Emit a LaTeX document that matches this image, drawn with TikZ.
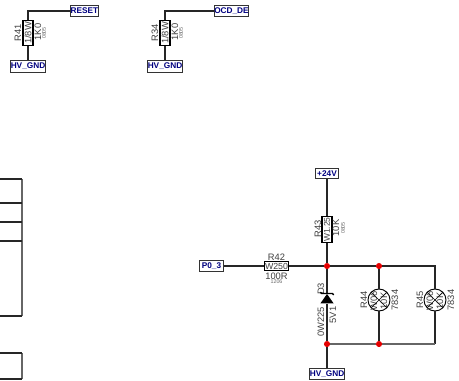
\documentclass[tikz,border=0pt]{standalone}
\usepackage{fontspec}
\setmainfont{Liberation Sans}
\usetikzlibrary{shapes.geometric}
\definecolor{netblue}{RGB}{0,0,128}
\tikzset{
  wire/.style={draw=black!85, line width=0.8pt},
  edgeline/.style={draw=black!60, line width=0.9pt},
  netlabel/.style={draw=black!80, line width=0.7pt, fill=white, text=netblue, inner sep=0pt, font=\bfseries\fontsize{6.2}{6.2}\selectfont},
  resbody/.style={draw=black, line width=0.8pt, fill=white, inner sep=0pt, font=\fontsize{7}{7}\selectfont, text=black!75},
  partlabel/.style={inner sep=0pt, text=black!75, font=\fontsize{7}{7}\selectfont},
  tinylabel/.style={inner sep=0pt, text=black!60, font=\fontsize{4}{4}\selectfont},
  junction/.style={circle, fill=red!90!black, inner sep=0pt, minimum size=4.6pt},
  thermbody/.style={circle, draw=black, line width=0.7pt, inner sep=0pt, minimum size=16.5pt},
}
\begin{document}
\begin{tikzpicture}[x=0.75pt, y=-0.75pt]
  \useasboundingbox (0,0) rectangle (459,380);

  % Pull-down for RESET
  \node[netlabel, minimum width=18.5pt, minimum height=8.5pt] (reset) at (84.5,11) {RESET};
  \node[resbody, rotate=90, minimum width=19pt, minimum height=7.5pt] (r41) at (28,33) {1/8W};
  \node[netlabel, minimum width=25.5pt, minimum height=8.5pt] (gnda) at (28,66.5) {HV\_GND};
  \node[partlabel, rotate=90] (r41name) at (18,33) {R41};
  \node[partlabel, rotate=90] (r41val) at (38,32) {1K0};
  \node[tinylabel, rotate=90] (r41size) at (44,33) {0805};
  \draw[wire] (reset.west) -| (r41.east);
  \draw[wire] (r41.west) -- (gnda.north);

  % Pull-down for OCD_DE
  \node[netlabel, minimum width=26pt, minimum height=8pt] (ocd) at (231.5,11) {OCD\_DE};
  \node[resbody, rotate=90, minimum width=19pt, minimum height=7.5pt] (r34) at (165,33) {1/8W};
  \node[netlabel, minimum width=26pt, minimum height=8.5pt] (gndb) at (165,66.5) {HV\_GND};
  \node[partlabel, rotate=90] (r34name) at (155,33) {R34};
  \node[partlabel, rotate=90] (r34val) at (175,32) {1K0};
  \node[tinylabel, rotate=90] (r34size) at (181,33) {0805};
  \draw[wire] (ocd.west) -| (r34.east);
  \draw[wire] (r34.west) -- (gndb.north);

  % Supply and input resistors
  \node[netlabel, minimum width=17pt, minimum height=8pt] (vsup) at (327,173.5) {+24V};
  \node[netlabel, minimum width=18.5pt, minimum height=8pt] (port) at (211.5,266) {P0\_3};
  \node[netlabel, minimum width=25.5pt, minimum height=8.5pt] (gndc) at (327,374) {HV\_GND};
  \node[resbody, rotate=90, minimum width=19pt, minimum height=7.5pt, font=\fontsize{6.3}{6.3}\selectfont] (r43) at (327,229.5) {W1.25};
  \node[partlabel, rotate=90] (r43name) at (318,229) {R43};
  \node[partlabel, rotate=90] (r43val) at (336,228) {10K};
  \node[tinylabel, rotate=90] (r43size) at (343,228) {0805};
  \node[resbody, minimum width=18.5pt, minimum height=6.5pt, font=\fontsize{6.6}{6.6}\selectfont] (r42) at (276.5,266) {W250};
  \node[partlabel] (r42name) at (276.5,257) {R42};
  \node[partlabel] (r42val) at (276.5,276) {100R};
  \node[tinylabel] (r42size) at (276.5,282) {1206};

  % Junctions of the rails
  \node[junction] (ja) at (327,266) {};
  \node[junction] (jb) at (379,266) {};
  \coordinate (ca) at (435,266);
  \node[junction] (jc) at (327,344) {};
  \node[junction] (jd) at (379,344) {};
  \coordinate (cb) at (435,344);

  % Zener
  \node[isosceles triangle, shape border rotate=90, isosceles triangle apex angle=70, fill=black, inner sep=0pt, minimum width=10pt, minimum height=7pt] (d3) at (327,300) {};
  \node[partlabel, rotate=90] (d3name) at (321,289) {D3};
  \node[partlabel, rotate=90] (d3type) at (321,322) {0W225};
  \node[partlabel, rotate=90] (d3val) at (333,315) {5V1};

  % Thermistors
  \node[thermbody] (r44) at (379,300) {};
  \node[thermbody] (r45) at (435,300) {};
  \node[partlabel, rotate=90] (r44name) at (364,300) {R44};
  \node[partlabel, rotate=90] (r45name) at (420,300) {R45};
  \node[partlabel, rotate=90] (r44type) at (374,301) {W06};
  \node[partlabel, rotate=90] (r45type) at (430,301) {W06};
  \node[partlabel, rotate=90] (r44val) at (384,301) {10K};
  \node[partlabel, rotate=90] (r45val) at (440,301) {10K};
  \node[partlabel, rotate=90] (r44code) at (395,300) {7834};
  \node[partlabel, rotate=90] (r45code) at (451,300) {7834};
  \foreach \therm in {r44,r45}{
    \draw[black, line width=0.5pt] (\therm.south west) -- (\therm.north east);
    \draw[black, line width=0.5pt] (\therm.north west) -- (\therm.south east);
  }

  % Wires
  \draw[wire] (vsup.south) -- (r43.east);
  \draw[wire] (r43.west) -- (ja);
  \draw[wire] (port.east) -- (r42.west);
  \draw[wire] (r42.east) -- (ja);
  \draw[wire] (ja) -- (jb) -- (ca) -- (r45.north);
  \draw[wire] (r45.south) -- (cb);
  \draw[edgeline] (jc) -- (jd) -- (cb);
  \draw[wire] (jb) -- (r44.north);
  \draw[wire] (r44.south) -- (jd);
  \draw[wire] (ja) -- (d3.north);
  \draw[wire] (d3.south) -- (jc) -- (gndc.north);
  \draw[black, line width=1pt] ([xshift=-5pt,yshift=1pt]d3.north) -- ([xshift=-4pt]d3.north) -- ([xshift=4pt]d3.north) -- ([xshift=5pt,yshift=-1pt]d3.north);

  % Cut-off table on the left edge
  \coordinate (ta) at (22,179);
  \coordinate (tb) at (22,203);
  \coordinate (tc) at (22,222);
  \coordinate (td) at (22,241);
  \coordinate (te) at (22,316);
  \coordinate (tf) at (22,353);
  \coordinate (tg) at (22,379);
  \draw[edgeline] (ta) -- (te);
  \draw[edgeline] (tf) -- (tg);
  \foreach \rowend in {ta,tb,tc,td,te,tf,tg}{
    \draw[wire] (\rowend) -- (0,0 |- \rowend);
  }
\end{tikzpicture}
\end{document}
